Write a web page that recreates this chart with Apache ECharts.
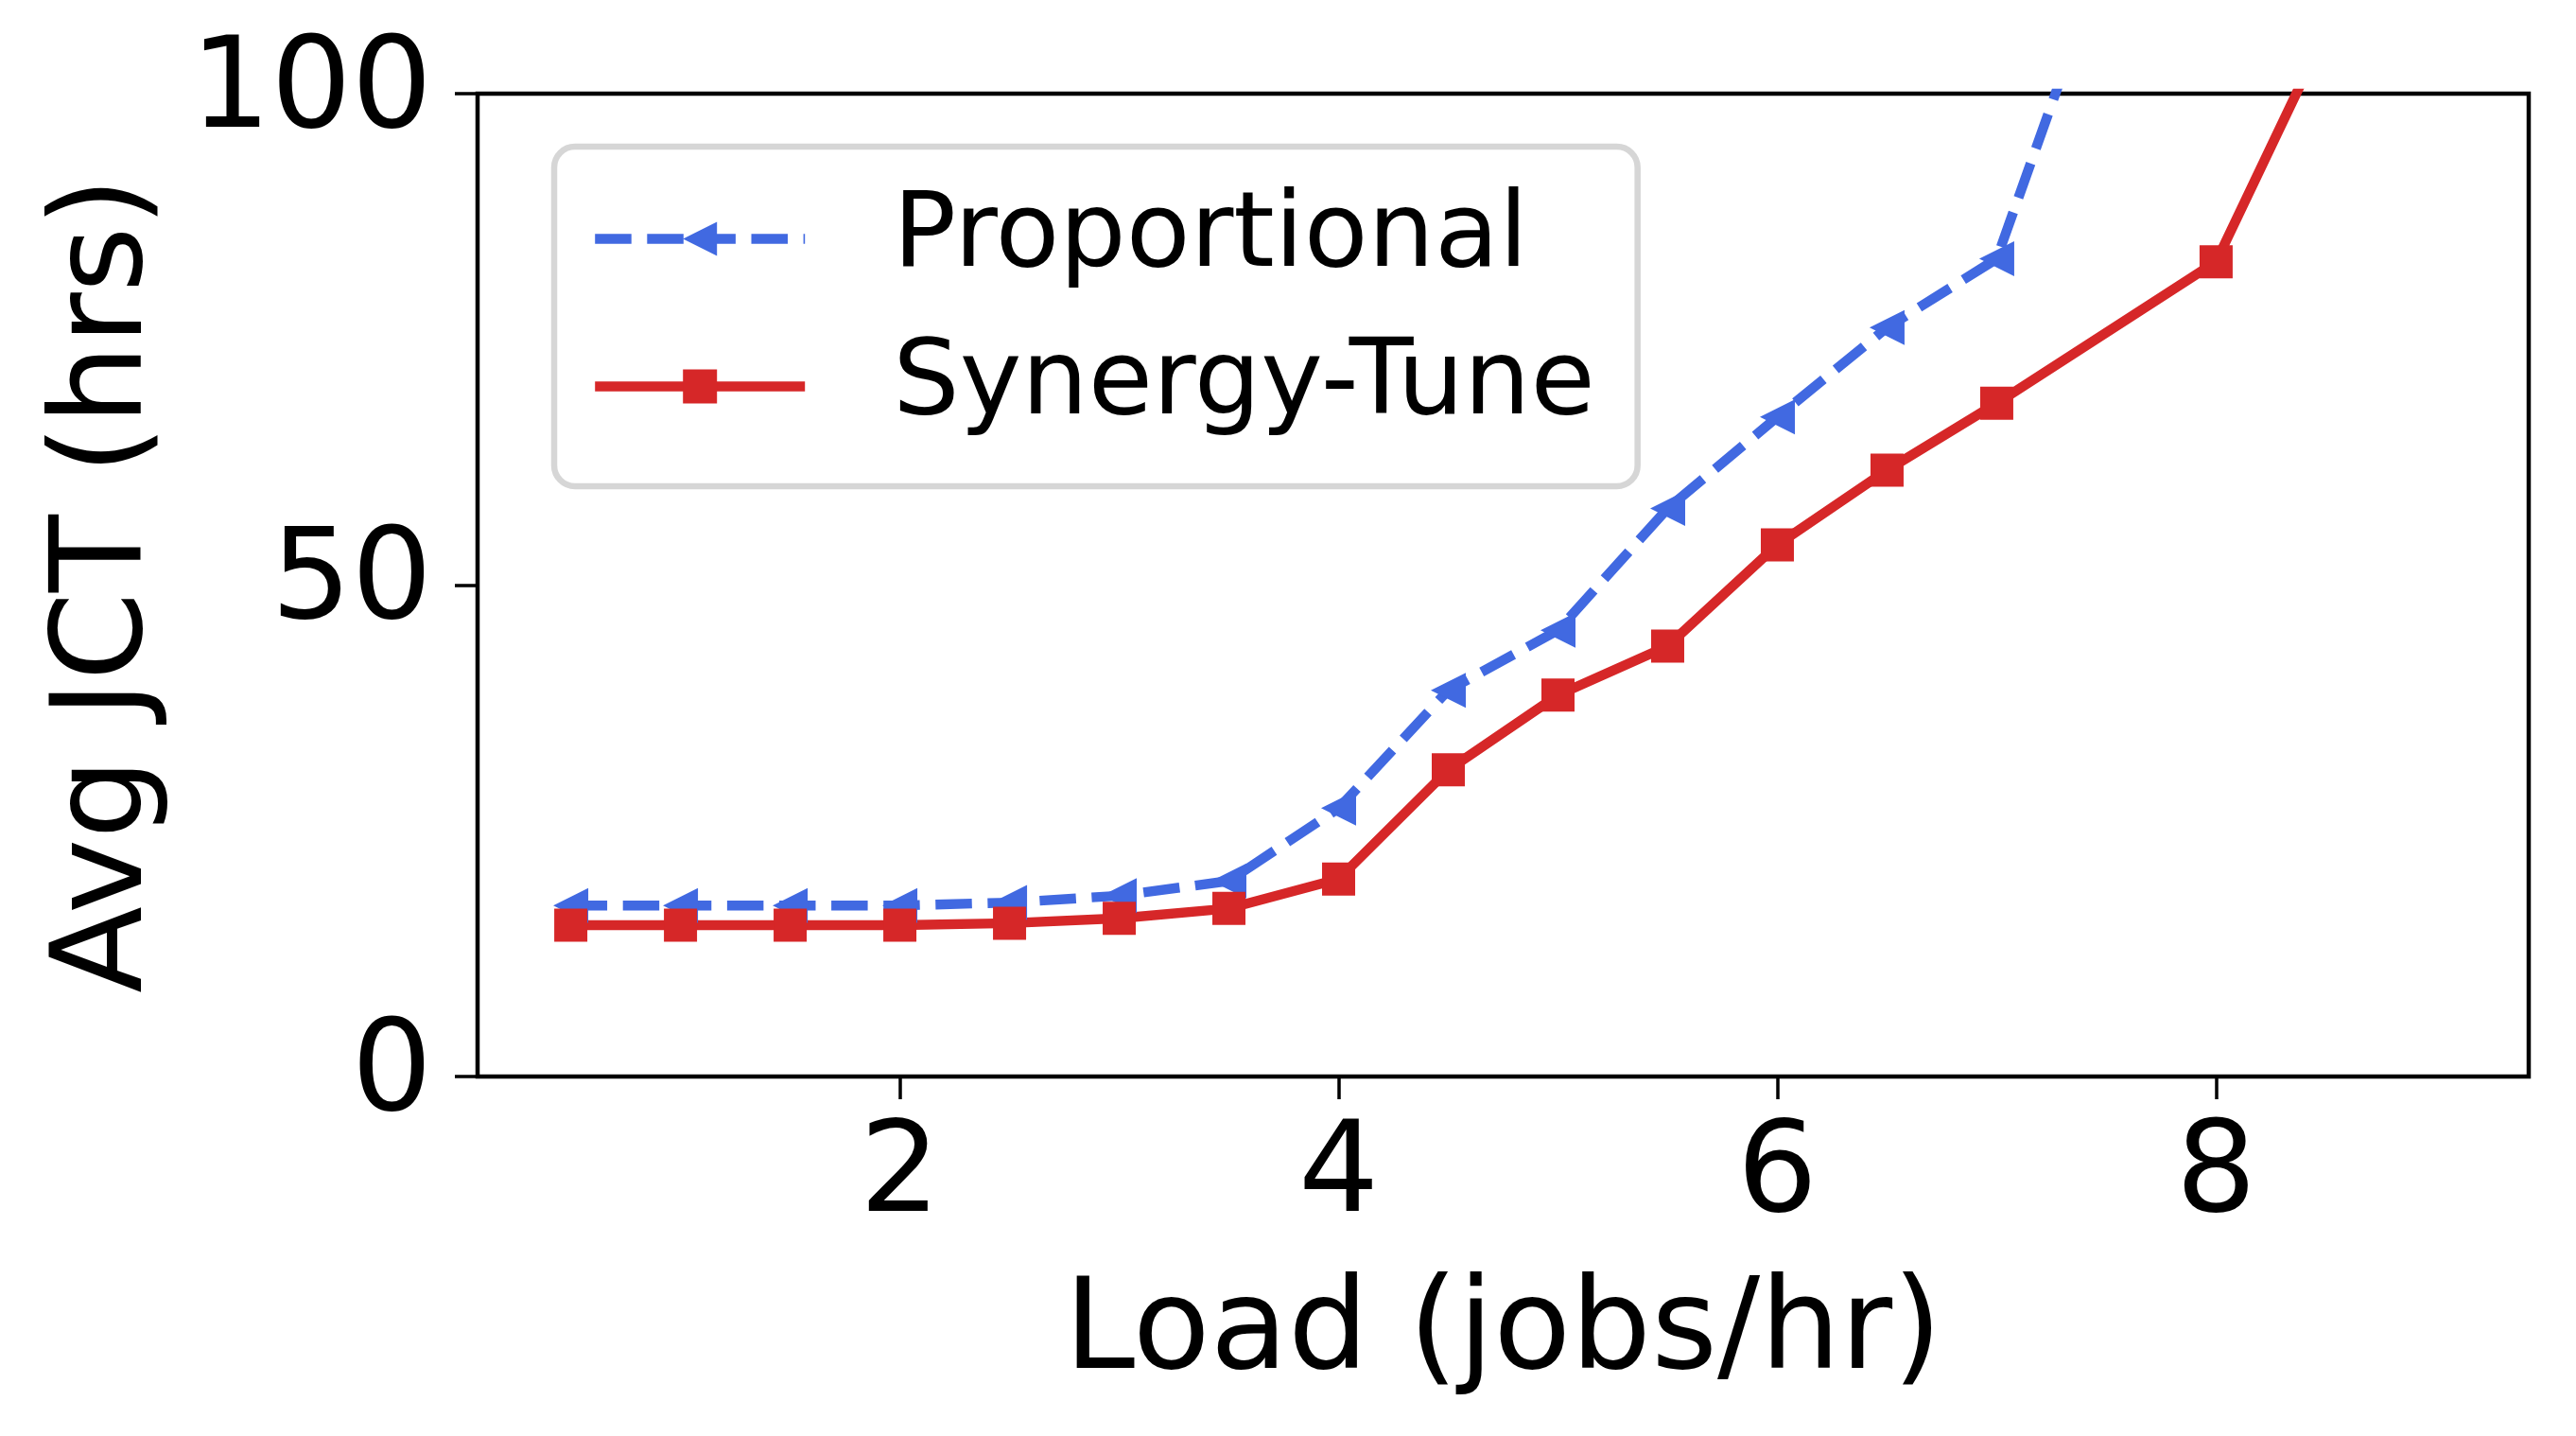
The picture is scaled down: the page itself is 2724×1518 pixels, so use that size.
<!DOCTYPE html>
<html>
<head>
<meta charset="utf-8">
<title>Avg JCT vs Load</title>
<script src="https://cdn.jsdelivr.net/npm/echarts@6/dist/echarts.min.js"></script>
<style>
  html, body { margin: 0; padding: 0; background: #fff; }
  #chart { width: 2724px; height: 1518px; }
</style>
</head>
<body>
<div id="chart"></div>
<script>
// Load (jobs/hr) values for each series
const loadsProportional = [0.5, 1, 1.5, 2, 2.5, 3, 3.5, 4, 4.5, 5, 5.5, 6, 6.5, 7, 8];
const loadsSynergy = [0.5, 1, 1.5, 2, 2.5, 3, 3.5, 4, 4.5, 5, 5.5, 6, 6.5, 7, 8, 9];

// Avg JCT (hrs) (last points run past the top of the axis)
const jctProportional = [17.4, 17.4, 17.4, 17.4, 17.7, 18.4, 19.9, 27.3, 39.3, 45.4, 57.8, 67.1, 76.2, 83.2, 146];
const jctSynergy = [15.4, 15.4, 15.4, 15.4, 15.6, 16.1, 17.1, 20.1, 31.2, 38.8, 43.8, 54.1, 61.7, 68.5, 82.9, 129.7];

const xTicks = [2, 4, 6, 8];
const seriesNames = ["Proportional", "Synergy-Tune"];

const FONT = "DejaVu Sans";
const BLUE = "#4169E1";
const RED = "#D62728";
const LINE_W = 10.4;
const DASH = [38.5, 16.6];

const zip = (xs, ys) => xs.map((x, i) => [x, ys[i]]);

const chart = echarts.init(document.getElementById("chart"));

chart.setOption({
  animation: false,
  backgroundColor: "#fff",
  grid: {
    left: 505,
    top: 99,
    width: 2169,
    height: 1039,
    show: true,
    borderColor: "#000",
    borderWidth: 4.5,
    backgroundColor: "transparent",
  },
  legend: {
    left: 586,
    top: 155,
    orient: "vertical",
    itemWidth: 222,
    itemHeight: 45,
    itemGap: 23,
    padding: [31, 45, 39, 38],
    backgroundColor: "#fff",
    borderColor: "#d6d6d6",
    borderWidth: 6.5,
    borderRadius: 22,
    textStyle: {
      fontFamily: FONT,
      fontSize: 111,
      lineHeight: 111,
      color: "#000",
      padding: [22, 0, 0, 88],
    },
    data: [
      { name: seriesNames[0], lineStyle: { width: LINE_W, type: DASH } },
      { name: seriesNames[1], lineStyle: { width: LINE_W, type: "solid" } },
    ],
  },
  xAxis: {
    type: "value",
    min: 0.075,
    max: 9.425,
    name: "Load (jobs/hr)",
    nameLocation: "middle",
    nameGap: 206,
    nameTextStyle: { fontFamily: FONT, fontSize: 134, color: "#000" },
    axisLine: { show: false },
    splitLine: { show: false },
    axisTick: {
      show: true,
      inside: false,
      length: 24,
      lineStyle: { color: "#000", width: 3.5 },
      customValues: xTicks,
    },
    axisLabel: {
      fontFamily: FONT,
      fontSize: 134,
      color: "#000",
      margin: 40,
      customValues: xTicks,
    },
  },
  yAxis: {
    type: "value",
    min: 0,
    max: 100,
    interval: 50,
    name: "Avg JCT (hrs)",
    nameLocation: "middle",
    nameGap: 324,
    nameTextStyle: { fontFamily: FONT, fontSize: 134, color: "#000" },
    axisLine: { show: false },
    splitLine: { show: false },
    axisTick: {
      show: true,
      inside: false,
      length: 24,
      lineStyle: { color: "#000", width: 3.5 },
    },
    axisLabel: {
      fontFamily: FONT,
      fontSize: 134,
      color: "#000",
      margin: 48,
      padding: [14, 0, 0, 0],
    },
  },
  series: [
    {
      name: seriesNames[0],
      type: "line",
      data: zip(loadsProportional, jctProportional),
      clip: true,
      symbol: "triangle",
      symbolRotate: 90,
      symbolSize: 37,
      showAllSymbol: true,
      lineStyle: { color: BLUE, width: LINE_W, type: DASH },
      itemStyle: { color: BLUE, borderWidth: 0 },
    },
    {
      name: seriesNames[1],
      type: "line",
      data: zip(loadsSynergy, jctSynergy),
      clip: true,
      symbol: "rect",
      symbolSize: 35,
      showAllSymbol: true,
      lineStyle: { color: RED, width: LINE_W, type: "solid" },
      itemStyle: { color: RED, borderWidth: 0 },
    },
  ],
});
</script>
</body>
</html>
